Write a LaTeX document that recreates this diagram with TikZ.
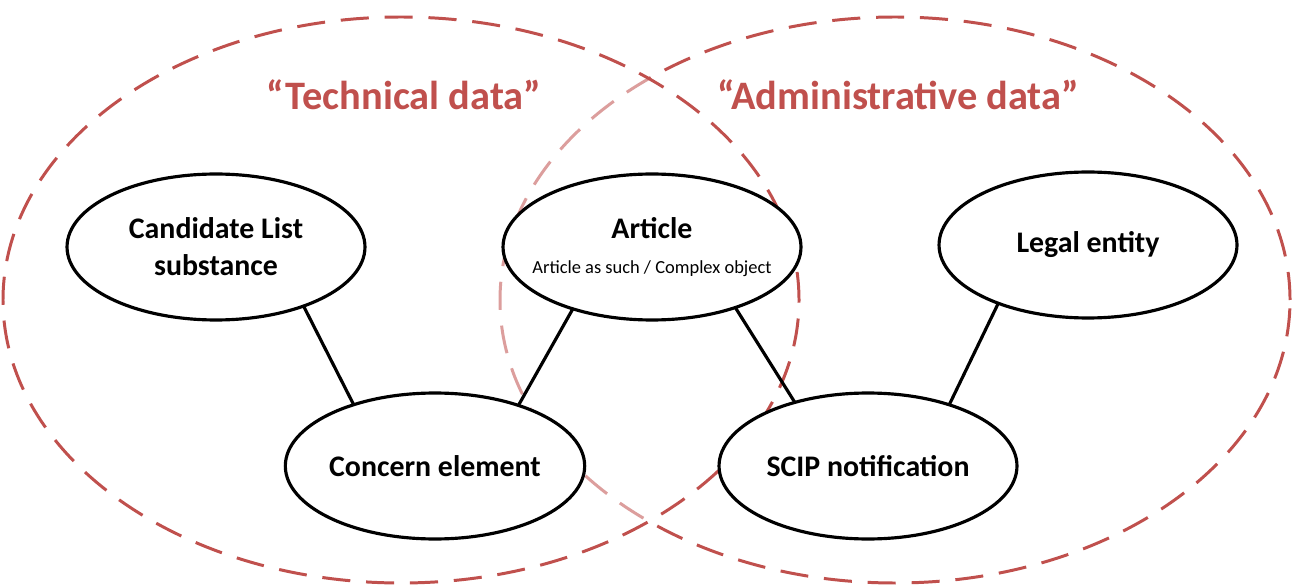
\documentclass[tikz,border=0pt]{standalone}
\usepackage{pgf,tikz}
\usetikzlibrary{shapes.geometric}
\usepackage{fontspec}
\setmainfont{Carlito}
\definecolor{zonered}{RGB}{192,80,77}

\begin{document}
\begin{tikzpicture}[x=0.02cm,y=0.02cm,
        every node/.style={outer sep=0pt, inner sep=0pt},
        entity/.style={draw, ellipse, fill=white, line width=1.8pt, minimum width=5.96cm, minimum height=2.92cm, align=center, font=\fontsize{17}{21}\selectfont\bfseries},
        zone/.style={draw=zonered, line width=1.7pt, dash pattern=on 16pt off 9pt},
        zonetitle/.style={text=zonered, font=\fontsize{23}{27}\selectfont\bfseries},
        link/.style={line width=1.8pt}]
    \useasboundingbox (0,0) rectangle (1293,585);
    % the two data areas
    \draw[zone] (895,285) ellipse [x radius=395, y radius=283];
    \draw[zone, fill=white, fill opacity=0.45] (401,285) ellipse [x radius=398, y radius=283];
    \node[zonetitle] (techtitle) at (404,490) {“Technical data”};
    \node[zonetitle] (admintitle) at (898,490) {“Administrative data”};
    % objects
    \node[entity] (candidate) at (216,338) {Candidate List\\substance};
    \node[entity] (article) at (652,338) {Article\\[-1pt]\makebox[0pt][c]{\fontsize{10.5}{13}\selectfont\mdseries Article as such / Complex object}};
    \node[entity] (legal) at (1088,340) {Legal entity};
    \node[entity] (concern) at (435,119) {Concern element};
    \node[entity] (scip) at (868,119) {SCIP notification};
    % links
    \draw[link] (candidate.-34) -- (concern.143);
    \draw[link] (article.-142) -- (concern.36);
    \draw[link] (article.-36) -- (scip.139);
    \draw[link] (legal.-147) -- (scip.37);
\end{tikzpicture}
\end{document}
